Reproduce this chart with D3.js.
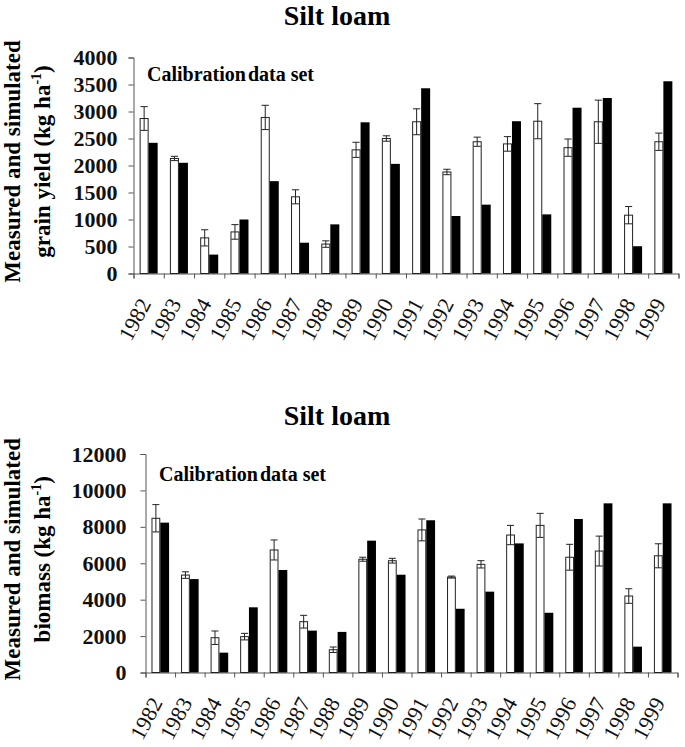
<!DOCTYPE html>
<html>
<head>
<meta charset="utf-8">
<script src="https://cdn.jsdelivr.net/npm/d3@7"></script>
<style>
  body { margin: 0; background: #fff; }
  svg { display: block; font-family: "Liberation Serif", "Times New Roman", serif; }
  .axis path, .axis line { stroke: #555; }
  .ytick text { font-family: "Liberation Serif", "Times New Roman", serif; font-weight: bold; font-size: 22px; fill: #111; }
</style>
</head>
<body>
<svg id="chart" width="685" height="747"></svg>
<script>
// values
const years = ["1982","1983","1984","1985","1986","1987","1988","1989","1990",
  "1991","1992","1993","1994","1995","1996","1997","1998","1999"];

const yieldMeasured = [2870, 2130, 660, 770, 2890, 1420, 545, 2290, 2500,
  2810, 1880, 2440, 2400, 2820, 2330, 2810, 1080, 2440];
const yieldErr = [220, 40, 150, 135, 225, 130, 60, 140, 50,
  240, 50, 85, 135, 325, 160, 400, 160, 160];
const yieldSimulated = [2420, 2050, 350, 1000, 1710, 570, 910, 2800, 2030,
  3430, 1065, 1275, 2820, 1095, 3070, 3250, 505, 3560];
const yieldTicks = [0, 500, 1000, 1500, 2000, 2500, 3000, 3500, 4000];

const biomassMeasured = [8470, 5350, 1910, 1970, 6730, 2790, 1250, 6220, 6140,
  7830, 5240, 5940, 7550, 8080, 6330, 6670, 4200, 6410];
const biomassErr = [750, 180, 370, 180, 550, 350, 150, 110, 130,
  600, 55, 200, 530, 660, 710, 820, 400, 660];
const biomassSimulated = [8230, 5130, 1090, 3580, 5630, 2300, 2230, 7240, 5370,
  8360, 3500, 4440, 7090, 3280, 8430, 9290, 1420, 9290];
const biomassTicks = [0, 2000, 4000, 6000, 8000, 10000, 12000];

const serif = '"Liberation Serif", "Times New Roman", serif';
const svg = d3.select("#chart");

function drawPanel(cfg) {
  const x = d3.scaleBand().domain(years).range([cfg.left, cfg.right]).padding(0);
  const inner = d3.scaleBand().domain(["m", "s"]).range([0, x.bandwidth()])
    .paddingInner(0).paddingOuter(0.68);
  const y = d3.scaleLinear().domain([0, cfg.max]).range([cfg.bottom, cfg.top]);

  const rows = years.map((yr, i) => ({
    year: yr, m: cfg.measured[i], e: cfg.err[i], s: cfg.simulated[i]
  }));

  const g = svg.append("g");

  // title
  g.append("text")
    .attr("x", 337).attr("y", cfg.titleY)
    .attr("text-anchor", "middle")
    .attr("font-weight", "bold").attr("font-size", 28)
    .text("Silt loam");

  // y axis
  g.append("g").attr("class", "axis ytick")
    .attr("transform", `translate(${cfg.left},0)`)
    .call(d3.axisLeft(y).tickValues(cfg.ticks).tickSize(5).tickPadding(cfg.tickPad)
      .tickFormat(d3.format("d")))
    .attr("font-family", serif);

  // x axis: line and ticks at band edges
  const edges = d3.scaleLinear().domain([0, years.length]).range([cfg.left, cfg.right]);
  g.append("g").attr("class", "axis")
    .attr("transform", `translate(0,${cfg.bottom})`)
    .call(d3.axisBottom(edges).ticks(years.length).tickSize(5).tickSizeOuter(5).tickFormat(""));

  // year labels
  g.append("g").attr("font-family", serif).selectAll("text")
    .data(years)
    .join("text")
    .attr("transform", d => `translate(${x(d) + x.bandwidth() / 2 + 3},${cfg.bottom + 30}) rotate(-62)`)
    .attr("text-anchor", "end")
    .attr("font-size", 22)
    .attr("fill", "#111")
    .text(d => d);

  const bars = g.append("g").selectAll("g")
    .data(rows)
    .join("g")
    .attr("transform", d => `translate(${x(d.year)},0)`);

  bars.append("rect")
    .attr("x", inner("m") + 0.5).attr("width", inner.bandwidth() - 1)
    .attr("y", d => y(d.m)).attr("height", d => y(0) - y(d.m))
    .attr("fill", "#fff").attr("stroke", "#222").attr("stroke-width", 1);

  bars.append("rect")
    .attr("x", inner("s")).attr("width", inner.bandwidth())
    .attr("y", d => y(d.s)).attr("height", d => y(0) - y(d.s))
    .attr("fill", "#000");

  // error bars on measured
  const cx = inner("m") + inner.bandwidth() / 2;
  const cap = inner.bandwidth() * 0.4;
  bars.append("line")
    .attr("x1", cx).attr("x2", cx)
    .attr("y1", d => y(d.m + d.e)).attr("y2", d => y(d.m - d.e))
    .attr("stroke", "#222");
  bars.append("line")
    .attr("x1", cx - cap).attr("x2", cx + cap)
    .attr("y1", d => y(d.m + d.e)).attr("y2", d => y(d.m + d.e))
    .attr("stroke", "#222");
  bars.append("line")
    .attr("x1", cx - cap).attr("x2", cx + cap)
    .attr("y1", d => y(d.m - d.e)).attr("y2", d => y(d.m - d.e))
    .attr("stroke", "#222");

  // annotation
  const note = g.append("text")
    .attr("x", cfg.noteX).attr("y", cfg.noteY)
    .attr("font-weight", "bold").attr("font-size", 20);
  note.append("tspan").text("Calibration");
  note.append("tspan").attr("dx", 2).text("data set");

  // y title, two lines
  const mid = (cfg.top + cfg.bottom) / 2 - 4;
  g.append("text")
    .attr("transform", `translate(20,${mid}) rotate(-90)`)
    .attr("text-anchor", "middle")
    .attr("font-weight", "bold").attr("font-size", 23)
    .text("Measured and simulated");
  const t2 = g.append("text")
    .attr("transform", `translate(50,${mid}) rotate(-90)`)
    .attr("text-anchor", "middle")
    .attr("font-weight", "bold").attr("font-size", 23);
  t2.append("tspan").text(cfg.line2 + " (kg ha");
  t2.append("tspan").attr("dy", -9).attr("font-size", 14).text("-1");
  t2.append("tspan").attr("dy", 9).text(")");
}

drawPanel({
  left: 133.5, right: 678.5, top: 57.5, bottom: 273.5, max: 4000,
  ticks: yieldTicks, tickPad: 11,
  measured: yieldMeasured, err: yieldErr, simulated: yieldSimulated,
  titleY: 25, noteX: 147, noteY: 81, line2: "grain yield "
});

drawPanel({
  left: 145.5, right: 677.5, top: 454, bottom: 672.5, max: 12000,
  ticks: biomassTicks, tickPad: 14,
  measured: biomassMeasured, err: biomassErr, simulated: biomassSimulated,
  titleY: 425, noteX: 159, noteY: 481, line2: "biomass"
});
</script>
</body>
</html>
